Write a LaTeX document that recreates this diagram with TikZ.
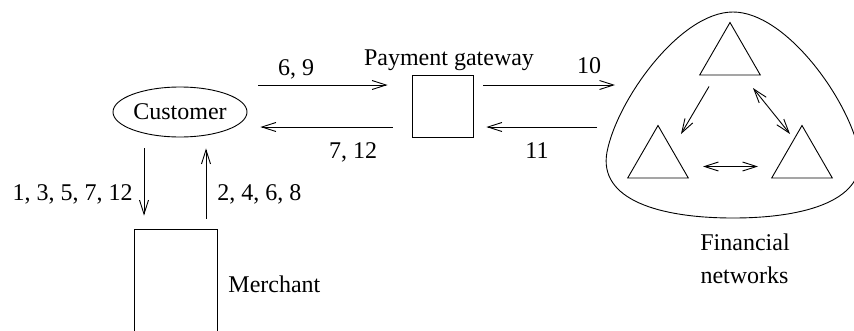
\documentclass[tikz,border=0pt]{standalone}
\usepackage{fontspec}
\setmainfont{Liberation Serif}
\usetikzlibrary{arrows.meta,shapes.geometric,calc}
\begin{document}
\begin{tikzpicture}[x=1pt,y=-1pt,line width=0.9pt,
  font=\fontsize{24}{28}\selectfont,
  barb/.tip={Straight Barb[length=14pt,width=9pt]},
  flow/.style={-barb},
  both/.style={barb-barb},
  lbl/.style={inner sep=0pt,anchor=base},
  tri/.style={draw,regular polygon,regular polygon sides=3,minimum size=70pt,inner sep=0pt},
]
\useasboundingbox (0,0) rectangle (854,330);
\clip (0,0) rectangle (854,330);

% parties
\node[draw,ellipse,minimum width=134pt,minimum height=50pt,inner sep=0pt] (cust) at (180,112) {Customer};
\node[draw,minimum width=61pt,minimum height=62pt,inner sep=0pt] (gw) at (442.5,106) {};
\node[lbl] (gwlbl) at (449,65) {Payment gateway};
\node[draw,minimum width=83pt,minimum height=140pt,inner sep=0pt] (merch) at (175.5,299) {};
\node[lbl,anchor=base west] (merchlbl) at (228,292) {Merchant};

% financial networks cloud
\coordinate (net) at (733,130);
\draw (733,12) .. controls (680,12) and (617,100) .. (607,152)
  .. controls (598,200) and (660,218) .. (733,218)
  .. controls (806,218) and (868,200) .. (859,152)
  .. controls (849,100) and (786,12) .. (733,12) -- cycle;
\node[tri] (tt) at (730,57.5) {};
\node[tri] (tl) at (658,160.5) {};
\node[tri] (tr) at (802,160.5) {};
\draw[flow] ($(tt.center)+(-21,29)$) -- ($(tl.center)+(23,-26.5)$);
\draw[both] ($(tt.center)+(23,30.5)$) -- ($(tr.center)+(-12,-26.5)$);
\draw[both] ($(tl.center)+(45,6)$) -- ($(tr.center)+(-44,6)$);
\node[lbl] (fin1) at (745,250) {Financial};
\node[lbl] (fin2) at (744.5,283) {networks};

% customer <-> merchant
\draw[flow] ($(cust.south)+(-36,11)$) -- ($(merch.north)+(-31.5,-13)$);
\draw[flow] ($(merch.north)+(30.5,-10)$) -- ($(cust.south)+(26,11)$);
\node[lbl,anchor=base east] (l1) at (133,200) {1, 3, 5, 7, 12};
\node[lbl,anchor=base west] (l2) at (217,200) {2, 4, 6, 8};

% customer <-> gateway
\draw[flow] ($(cust.east)+(11,-27)$) -- ($(gw.west)+(-24,-21)$);
\draw[flow] ($(gw.west)+(-19,21)$) -- ($(cust.east)+(13,15)$);
\node[lbl] (l69) at (296,75) {6, 9};
\node[lbl] (l712) at (353,158) {7, 12};

% gateway <-> networks
\draw[flow] ($(gw.east)+(10,-21)$) -- ($(net)+(-118,-45)$);
\draw[flow] ($(net)+(-136,-3)$) -- ($(gw.east)+(13,21)$);
\node[lbl] (l10) at (589,73) {10};
\node[lbl] (l11) at (537,158) {11};
\end{tikzpicture}
\end{document}
